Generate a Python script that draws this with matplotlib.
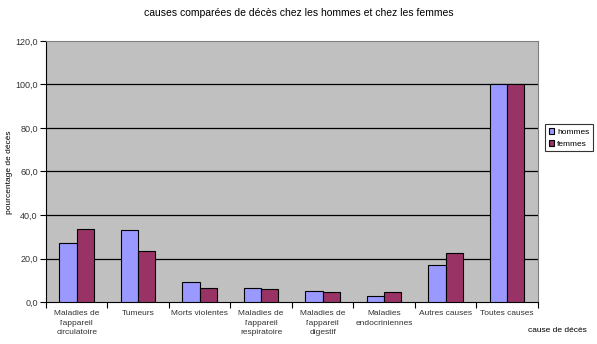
import matplotlib
matplotlib.use("Agg")
import matplotlib.pyplot as plt
import numpy as np

plt.rcParams['font.family'] = ['Liberation Sans', 'DejaVu Sans']

categories = ["Maladies de\nl'appareil\ncirculatoire", "Tumeurs", "Morts violentes",
              "Maladies de\nl'appareil\nrespiratoire", "Maladies de\nl'appareil\ndigestif",
              "Maladies\nendocriniennes", "Autres causes", "Toutes causes"]
hommes = [27.0, 33.0, 9.0, 6.3, 5.0, 3.0, 17.0, 100.0]
femmes = [33.5, 23.5, 6.3, 5.8, 4.5, 4.5, 22.5, 100.0]

fig = plt.figure(figsize=(5.97, 3.44), dpi=100)
ax = fig.add_axes([0.077, 0.122, 0.824, 0.759])
ax.set_facecolor('#C0C0C0')

x = np.arange(len(categories))
w = 0.28
ax.bar(x - w / 2, hommes, w, color='#9999FF', edgecolor='black', linewidth=0.8, label='hommes', zorder=3)
ax.bar(x + w / 2, femmes, w, color='#993366', edgecolor='black', linewidth=0.8, label='femmes', zorder=3)

ax.set_xlim(-0.5, len(categories) - 0.5)
ax.set_ylim(0, 120)
ax.set_yticks(np.arange(0, 121, 20))
ax.set_yticklabels([f"{v:.1f}".replace('.', ',') for v in np.arange(0, 121, 20)], fontsize=6.5,
                   color='#333333')
for v in range(20, 101, 20):
    ax.axhline(v, color='black', linewidth=0.9, zorder=1)

# category labels centred, tick marks between groups
ax.set_xticks(x)
ax.set_xticklabels(categories, fontsize=6, linespacing=1.45, color='#333333')
ax.tick_params(axis='x', length=0, pad=6)
ax.set_xticks(np.arange(-0.5, len(categories)), minor=True)
ax.tick_params(axis='x', which='minor', length=4, width=0.8, direction='out')
ax.tick_params(axis='y', length=4, width=0.8, direction='out', pad=2)

for s in ['top', 'right']:
    ax.spines[s].set_color('#808080')
    ax.spines[s].set_linewidth(0.8)
for s in ['left', 'bottom']:
    ax.spines[s].set_color('black')
    ax.spines[s].set_linewidth(0.8)

fig.text(0.5, 0.962, "causes comparées de décès chez les hommes et chez les femmes",
         ha='center', va='center', fontsize=7.5)
fig.text(0.016, 0.5, "pourcentage de décès", rotation=90, ha='center', va='center', fontsize=6)
fig.text(0.934, 0.038, "cause de décès", ha='center', va='center', fontsize=6)

leg = fig.legend(loc='center', bbox_to_anchor=(0.953, 0.6), fontsize=6, frameon=True,
                 fancybox=False, handlelength=0.7, handleheight=0.7, handletextpad=0.3,
                 borderpad=0.4, labelspacing=0.5, borderaxespad=0)
leg.get_frame().set_edgecolor('black')
leg.get_frame().set_linewidth(0.8)

fig.savefig("out.png", dpi=100)
